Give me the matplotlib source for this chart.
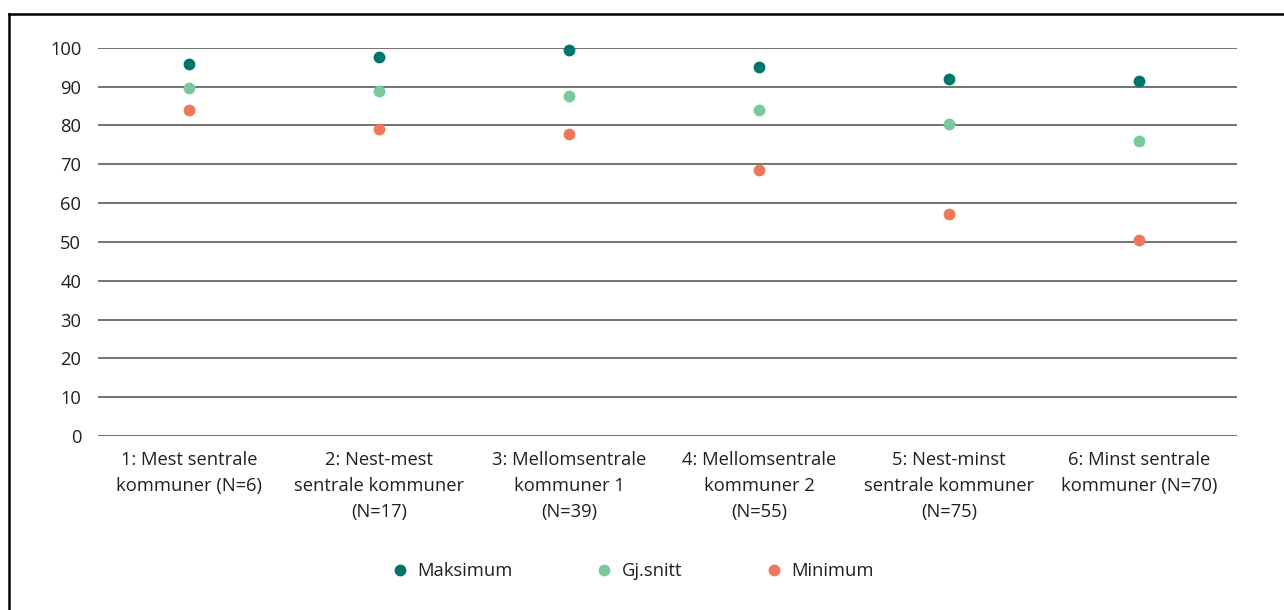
import matplotlib.pyplot as plt
from matplotlib.lines import Line2D

plt.rcParams['font.family'] = ['Open Sans', 'DejaVu Sans']

categories = [
    '1: Mest sentrale\nkommuner (N=6)',
    '2: Nest-mest\nsentrale kommuner\n(N=17)',
    '3: Mellomsentrale\nkommuner 1\n(N=39)',
    '4: Mellomsentrale\nkommuner 2\n(N=55)',
    '5: Nest-minst\nsentrale kommuner\n(N=75)',
    '6: Minst sentrale\nkommuner (N=70)',
]
maksimum = [95.8, 97.7, 99.4, 95.1, 91.9, 91.4]
gjsnitt = [89.5, 88.8, 87.6, 84.0, 80.3, 75.9]
minimum = [84.0, 79.0, 77.8, 68.5, 57.2, 50.5]
yticks = [0, 10, 20, 30, 40, 50, 60, 70, 80, 90, 100]

c_max = '#00756b'
c_avg = '#7ac99c'
c_min = '#f0775a'
text_c = '#231f20'

W, H = 1284, 610
fig = plt.figure(figsize=(W / 100, H / 100), dpi=100)
ax = fig.add_axes([98 / W, 1 - 436 / H, (1237 - 98) / W, (436 - 47.7) / H])

x = list(range(len(categories)))
ms = 8.5
ax.plot(x, maksimum, 'o', color=c_max, ms=ms, mec='none', label='Maksimum', clip_on=False, zorder=3)
ax.plot(x, gjsnitt, 'o', color=c_avg, ms=ms, mec='none', label='Gj.snitt', clip_on=False, zorder=3)
ax.plot(x, minimum, 'o', color=c_min, ms=ms, mec='none', label='Minimum', clip_on=False, zorder=3)

ax.set_xlim(-0.479, 5.516)
ax.set_ylim(0, 100)
ax.set_yticks(yticks)
ax.set_xticks(x)
ax.set_xticklabels(categories, linespacing=1.55, va='top')
ax.tick_params(axis='both', length=0, labelsize=13.2, labelcolor=text_c)
ax.tick_params(axis='y', pad=12)
ax.tick_params(axis='x', pad=11)
ax.grid(axis='y', color='#4d4d4d', linewidth=1.1)
ax.set_axisbelow(True)
for s in ax.spines.values():
    s.set_visible(False)

fig.legend(loc='center', bbox_to_anchor=(0.493, 1 - 571 / H), ncol=3, frameon=False,
           fontsize=13.2, handlelength=0.8, handletextpad=0.55, columnspacing=4.6,
           labelcolor=text_c)

# outer frame: top and left edges only
fig.add_artist(Line2D([9 / W, 1], [1 - 14 / H, 1 - 14 / H], transform=fig.transFigure,
                      color='black', linewidth=1.8))
fig.add_artist(Line2D([9 / W, 9 / W], [0, 1 - 14 / H], transform=fig.transFigure,
                      color='black', linewidth=1.8))

fig.savefig('out.png', dpi=100)
